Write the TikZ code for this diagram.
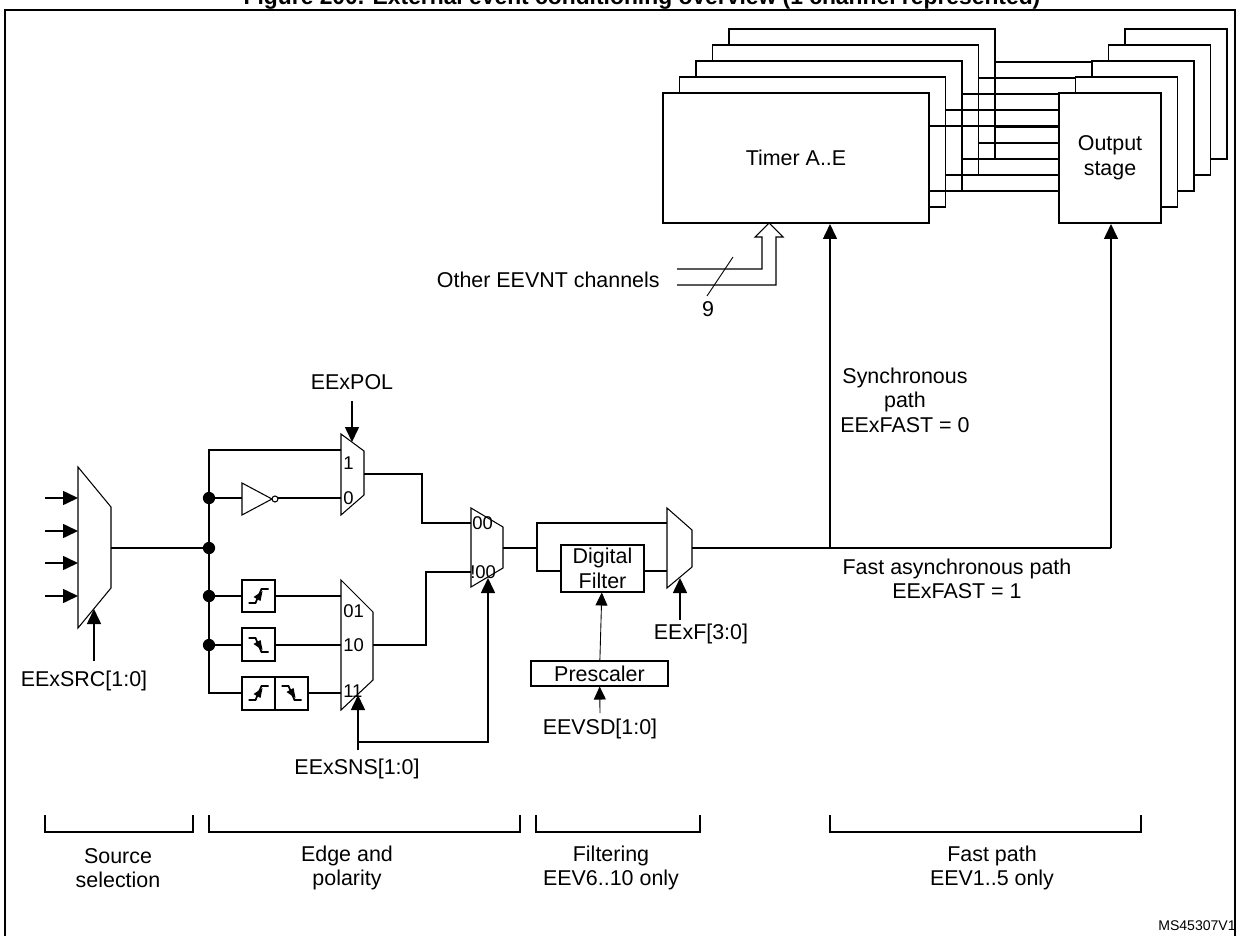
\documentclass[tikz,border=0pt]{standalone}
\usepackage{fontspec}
\setmainfont{Liberation Sans}
\usetikzlibrary{arrows.meta}

\tikzset{
	lbl/.style={font=\fontsize{12.2}{14}\selectfont, inner sep=0pt, align=center},
	pin/.style={font=\fontsize{10.5}{11}\selectfont, inner sep=0pt, anchor=west},
	wire/.style={line width=0.9pt},
	sig/.style={line width=0.9pt, -{Triangle[length=3mm,width=2.8mm]}},
	thin sig/.style={line width=0.5pt, -{Triangle[length=2.6mm,width=2.4mm]}},
	box/.style={draw, line width=0.6pt, fill=white},
	dot/.style={circle, fill=black, inner sep=0pt, minimum size=7pt},
	rise/.pic={\draw[line width=1pt] (-10,7)--(-3,7)--(3,-7)--(10,-7);
		\fill (-5,1)--(4,-5)--(2,5)--cycle;},
	fall/.pic={\draw[line width=1pt] (-10,-7)--(-3,-7)--(3,7)--(10,7);
		\fill (-5,-1)--(4,5)--(2,-5)--cycle;}
}

\begin{document}
\begin{tikzpicture}[x=0.02cm, y=-0.02cm]
	\useasboundingbox (0,0) rectangle (1237,936);
	\node[font=\fontsize{13}{14}\selectfont\bfseries, anchor=base] (title) at (642,5)
		{Figure 200. External event conditioning overview (1 channel represented)};
	\draw[line width=1.4pt] (5,936)--(5,10)--(1235,10)--(1235,936);

	% timer and output stacks, back to front
	\foreach \k in {4,3,2,1,0} {
		\draw[box] ({663+16.5*\k},{93-16*\k}) rectangle ({929+16.5*\k},{223-16*\k});
		\draw[box] ({1059+16.5*\k},{93-16*\k}) rectangle ({1161+16.5*\k},{223-16*\k});
		\draw[wire] ({929+16.5*\k},{126-16*\k}) -- ({1059+16.5*\k},{126-16*\k});
		\draw[wire] ({929+16.5*\k},{191-16*\k}) -- ({1059+16.5*\k},{191-16*\k});
	}
	\node[lbl] (timer) at (796,158) {Timer A..E};
	\node[lbl] (outstage) at (1110,158) {Output\\stage};

	% other channels bus
	\draw[line width=0.6pt, fill=white] (677,269)--(762,269)--(762,237)--(755,237)--(769,223)
		--(783,237)--(776,237)--(776,285)--(677,285);
	\draw[line width=0.5pt] (733,257)--(707,296);
	\node[lbl, anchor=east] (other) at (660,280) {Other EEVNT channels};
	\node[lbl] (nine) at (708,309) {9};

	% source selection
	\foreach \y in {498,531,563,596}
		\draw[sig] (45,\y) -- (78,\y);
	\draw[box] (78,467)--(111,507)--(111,588)--(78,628)--cycle;
	\draw[sig] (94,661) -- (94,609);
	\node[lbl] (srcsel) at (84,681) {EExSRC[1:0]};

	% edge and polarity
	\draw[wire] (111,548) -- (209,548);
	\draw[wire] (341,450) -- (209,450) -- (209,693) -- (242,693);
	\foreach \y in {498,548,596,645}
		\node[dot] at (209,\y) {};
	\draw[wire] (209,498) -- (242,498);
	\draw[line width=0.6pt] (242,483)--(242,515)--(272,499)--cycle;
	\draw[line width=0.6pt] (275,499) circle (3);
	\draw[wire] (278,498) -- (341,498);
	\draw[box] (341,434)--(364,451)--(364,495)--(341,515)--cycle;
	\node[pin] at (343,463) {1};
	\node[pin] at (343,498) {0};
	\draw[sig] (352,401) -- (352,442);
	\node[lbl] (polsel) at (352,382) {EExPOL};

	\draw[wire] (209,596) -- (242,596) (275,596) -- (341,596);
	\draw[wire] (209,645) -- (242,645) (275,645) -- (341,645);
	\draw[wire] (308,693) -- (341,693);
	\draw[box] (242,580) rectangle (275,612);
	\pic at (258.5,596) {rise};
	\draw[box] (242,628) rectangle (275,661);
	\pic at (258.5,645) {fall};
	\draw[box] (242,677) rectangle (275,710);
	\pic at (258.5,693) {rise};
	\draw[box] (275,677) rectangle (308,710);
	\pic at (291.5,693) {fall};
	\draw[box] (341,580)--(373,612)--(373,680)--(341,710)--cycle;
	\node[pin] at (343,611) {01};
	\node[pin] at (343,645) {10};
	\node[pin] at (343,691) {11};
	\draw[sig] (358,750) -- (358,695);
	\draw[sig] (358,742) -- (488,742) -- (488,578);
	\node[lbl] (snssel) at (357,769) {EExSNS[1:0]};

	\draw[wire] (364,474) -- (422,474) -- (422,523) -- (471,523);
	\draw[wire] (373,645) -- (426,645) -- (426,572) -- (471,572);
	\draw[box] (471,508)--(503,527)--(503,568)--(471,587)--cycle;
	\node[pin] at (472,523) {00};
	\node[pin] at (470,572) {!00};

	% filtering
	\draw[wire] (503,548) -- (537,548);
	\draw[wire] (667,523) -- (537,523) -- (537,571) -- (561,571);
	\node[box, lbl, minimum width=1.66cm, minimum height=0.94cm] (filter) at (602.5,568.5)
		{Digital\\Filter};
	\draw[wire] (filter.east |- 0,571) -- (667,571);
	\node[box, lbl, minimum width=2.74cm, minimum height=0.5cm] (presc) at (599.5,673.5)
		{Prescaler};
	\draw[thin sig] (presc) -- (filter);
	\coordinate (vsd) at (600,713);
	\draw[thin sig] (vsd) -- (presc);
	\node[lbl] (vsdsel) at (600,729) {EEVSD[1:0]};
	\draw[box] (667,508)--(692,530)--(692,567)--(667,588)--cycle;
	\draw[sig] (680,620) -- (680,578);
	\node[lbl] (fsel) at (701,634) {EExF[3:0]};

	% fast and synchronous paths
	\draw[wire] (692,548) -- (1111,548);
	\draw[sig] (830,548) -- (830,224);
	\draw[sig] (1111,548) -- (1111,224);
	\node[lbl] (syncpath) at (905,400) {Synchronous\\path\\EExFAST = 0};
	\node[lbl] (fastpath) at (957,579) {Fast asynchronous path\\EExFAST = 1};

	% stage brackets
	\foreach \a/\b in {45/193, 209/520, 536/700, 830/1141}
		\draw[line width=0.6pt] (\a,815) -- (\a,832) -- (\b,832) -- (\b,815);
	\node[lbl] (s1) at (118,868) {Source\\selection};
	\node[lbl] (s2) at (347,868) {Edge and\\polarity};
	\node[lbl] (s3) at (611,868) {Filtering\\EEV6..10 only};
	\node[lbl] (s4) at (992,868) {Fast path\\EEV1..5 only};
	\node[font=\fontsize{8}{9}\selectfont, anchor=east, inner sep=0pt] (ref) at (1236,926) {MS45307V1};
\end{tikzpicture}
\end{document}
